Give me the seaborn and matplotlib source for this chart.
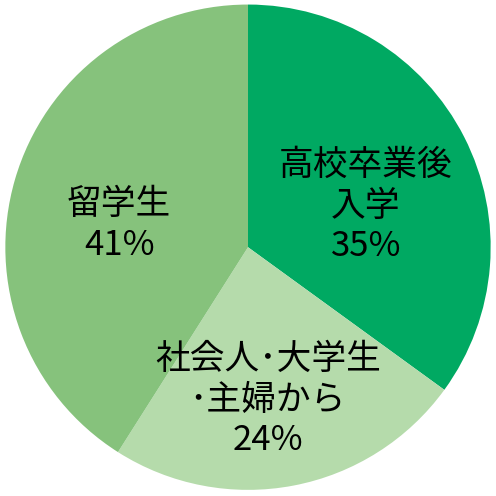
import numpy as np
import matplotlib.pyplot as plt
import seaborn as sns

labels = ["高校卒業後\n入学", "社会人･大学生\n･主婦から", "留学生"]
values = [35, 24, 41]
colors = ["#00a962", "#b5dbab", "#86c27c"]

sns.set_theme(style="white")
plt.rcParams['font.family'] = ['Noto Sans CJK JP', 'DejaVu Sans']

fig, ax = plt.subplots(figsize=(4.96, 4.96), dpi=100)
fig.subplots_adjust(left=0, right=1, top=1, bottom=0)

wedges, _ = ax.pie(values, colors=colors, startangle=90, counterclock=False,
                   radius=1.0, wedgeprops={"linewidth": 0})
ax.set_xlim(-1.022, 1.022)
ax.set_ylim(-1.025, 1.0185)
ax.set_aspect("equal")

# ラベルの位置 (半径に対する割合, 角度)
pos = [(0.515, 19.2), (0.636, -82.6), (0.539, 170.3)]
for lab, v, (r, a) in zip(labels, values, pos):
    x = r * np.cos(np.radians(a))
    y = r * np.sin(np.radians(a))
    ax.text(x, y, f"{lab}\n{v}%", ha="center", va="center", fontsize=25,
            color="black", linespacing=1.2)

ax.axis("off")
fig.savefig("out.png", dpi=100)
